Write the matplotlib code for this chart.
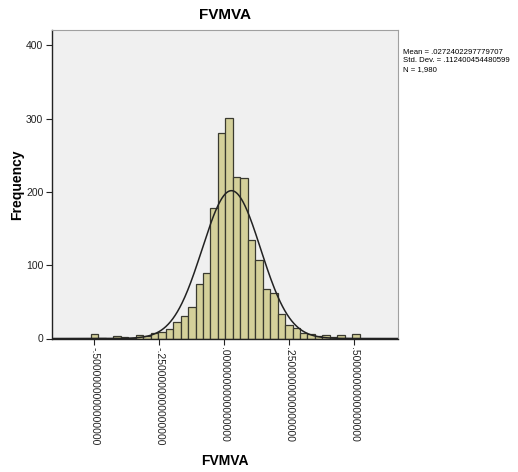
import numpy as np
import matplotlib
matplotlib.use("Agg")
import matplotlib.pyplot as plt

# Histogram data
bin_start = -0.5128
bin_width = 0.02871
counts = [6, 1, 0, 3, 2, 1, 5, 4, 7, 9, 13, 22, 31, 43, 75, 90, 178, 281,
          301, 220, 219, 134, 107, 68, 62, 34, 18, 14, 8, 6, 3, 5, 2, 5, 1, 6]
mean = 0.0272402297779707
std = 0.112400454480599
n = 1980
xticks = [-0.5, -0.25, 0.0, 0.25, 0.5]
xtick_labels = ["-.5000000000000000", "-.2500000000000000", ".0000000000000000",
                ".2500000000000000", ".5000000000000000"]
yticks = [0, 100, 200, 300, 400]

plt.rcParams['font.family'] = ['Liberation Sans', 'DejaVu Sans']

fig = plt.figure(figsize=(5.18, 4.72), dpi=100)
ax = fig.add_axes([51.7 / 518, 1 - 338.5 / 472, (398 - 51.7) / 518, (338.5 - 30) / 472])
ax.set_facecolor('#F0F0F0')

edges = bin_start + bin_width * np.arange(len(counts) + 1)
ax.bar(edges[:-1], counts, width=bin_width, align='edge',
       color='#D4D09A', edgecolor='#3A3A30', linewidth=0.9)

xs = np.linspace(-0.66, 0.67, 600)
pdf = n * bin_width / (std * np.sqrt(2 * np.pi)) * np.exp(-0.5 * ((xs - mean) / std) ** 2)
ax.plot(xs, pdf, color='#222222', linewidth=1.1)

ax.set_xlim(-0.664, 0.668)
ax.set_ylim(0, 421)
ax.set_xticks(xticks)
ax.set_xticklabels(xtick_labels, rotation=270, fontsize=7.5, color='#222222')
ax.set_yticks(yticks)
ax.set_yticklabels([str(v) for v in yticks], fontsize=7.5, color='#222222')
ax.tick_params(direction='out', length=4, width=0.8, color='#222222', pad=2)

for side in ['top', 'right']:
    ax.spines[side].set_color('#A0A0A0')
    ax.spines[side].set_linewidth(0.8)
for side in ['left', 'bottom']:
    ax.spines[side].set_color('#222222')
    ax.spines[side].set_linewidth(1.0)

ax.set_title('FVMVA', fontsize=11, fontweight='bold', pad=8)
ax.set_ylabel('Frequency', fontsize=10, fontweight='bold')
ax.yaxis.set_label_coords((24 - 51.7) / 346.3, 0.5)
ax.set_xlabel('FVMVA', fontsize=10, fontweight='bold')
ax.xaxis.set_label_coords(0.5, (338.5 - 454) / 308.5)

fig.text(403 / 518, 1 - 52 / 472, 'Mean = .0272402297779707', fontsize=5.6, va='center', ha='left')
fig.text(403 / 518, 1 - 61 / 472, 'Std. Dev. = .112400454480599', fontsize=5.6, va='center', ha='left')
fig.text(403 / 518, 1 - 70 / 472, 'N = 1,980', fontsize=5.6, va='center', ha='left')

fig.savefig('out.png', dpi=100)
